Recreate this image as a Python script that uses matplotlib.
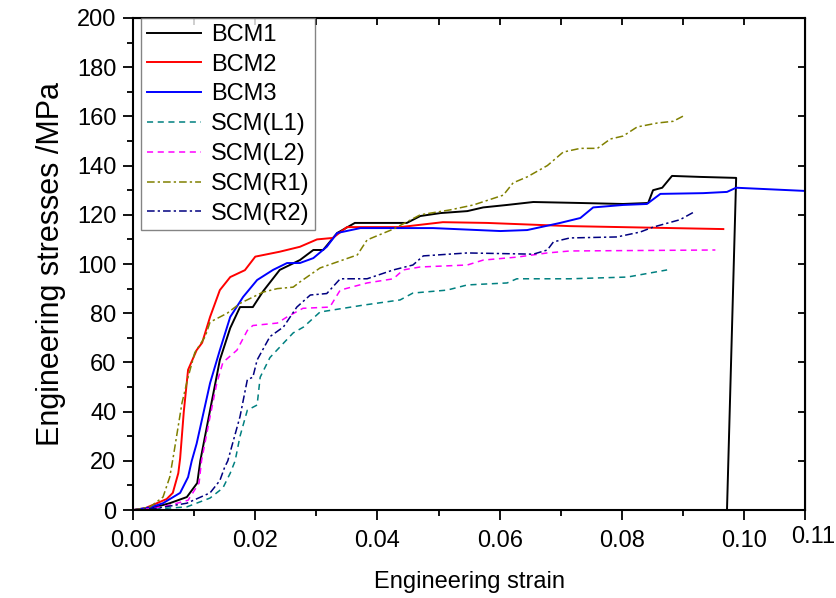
import numpy as np
import matplotlib
matplotlib.use('Agg')
import matplotlib.pyplot as plt

plt.rcParams['font.family'] = ['Liberation Sans', 'DejaVu Sans']

# 曲线数据 (应变, 应力 MPa)
bcm1_x = [0, 0.003, 0.006, 0.0088, 0.0105, 0.011, 0.0126, 0.0142, 0.0159, 0.0175, 0.0196, 0.0213,
          0.024, 0.0273, 0.0295, 0.0311, 0.0334, 0.0363, 0.0448, 0.047, 0.0503, 0.0547, 0.0573, 0.0612,
          0.0655, 0.0732, 0.0802, 0.0843, 0.0851, 0.0866, 0.0882, 0.0928, 0.0987, 0.0972]
bcm1_y = [0, 0.8, 2.8, 5.3, 11, 20, 40.6, 61, 74, 82.5, 82.5, 89,
          97.6, 101.6, 105.7, 105.7, 112.6, 116.7, 116.7, 119.5, 120.7, 121.5, 123, 124,
          125.2, 124.8, 124.4, 124.8, 130, 131, 135.8, 135.4, 135, 0]

bcm2_x = [0, 0.002, 0.0039, 0.0055, 0.0065, 0.0074, 0.0077, 0.0083, 0.009, 0.0104, 0.0113, 0.0126,
          0.0142, 0.0159, 0.0183, 0.02, 0.024, 0.0273, 0.0301, 0.0327, 0.035, 0.0437, 0.0507, 0.0579,
          0.0715, 0.0966]
bcm2_y = [0, 0.8, 2.8, 4.5, 7, 15, 21, 40, 57, 65, 68, 78.5,
          89.4, 94.7, 97.5, 103, 105, 107, 110, 110.6, 115, 115, 117, 116.7,
          115.4, 114.2]

bcm3_x = [0, 0.003, 0.0049, 0.0077, 0.009, 0.0096, 0.0104, 0.0126, 0.0142, 0.0159, 0.018, 0.0203,
          0.0229, 0.0252, 0.0273, 0.0295, 0.0317, 0.0334, 0.0372, 0.0491, 0.0601, 0.0645, 0.0699,
          0.0732, 0.0753, 0.0802, 0.0841, 0.0863, 0.0933, 0.0972, 0.0987, 0.11]
bcm3_y = [0, 1.2, 2.8, 7, 13.4, 20, 27, 51.6, 65, 78.5, 86.6, 93.5,
          97.6, 100.4, 100.4, 102.4, 107, 112.6, 114.6, 114.6, 113.4, 113.8, 116.7,
          118.7, 123, 124, 124.4, 128.5, 128.8, 129.3, 131, 129.7]

l1_x = [0, 0.004, 0.0088, 0.0126, 0.0147, 0.0159, 0.0167, 0.0175, 0.0187, 0.0203, 0.0208, 0.0224,
        0.0262, 0.0279, 0.0306, 0.0344, 0.0377, 0.0437, 0.0458, 0.0514, 0.0547, 0.0612, 0.0628,
        0.0715, 0.0809, 0.0874]
l1_y = [0, 0.5, 1.3, 4.9, 9, 15, 20, 30, 40.6, 42.7, 54, 62,
        72, 74.4, 80.5, 82, 83.3, 85.4, 88.2, 89.4, 91.5, 92.3, 94,
        94, 94.7, 97.6]

l2_x = [0, 0.003, 0.006, 0.009, 0.0108, 0.0112, 0.0126, 0.0137, 0.0147, 0.017, 0.0187, 0.0196,
        0.0236, 0.0252, 0.0278, 0.0322, 0.0339, 0.0383, 0.0426, 0.0442, 0.047, 0.0547, 0.0573,
        0.0628, 0.0678, 0.0715, 0.0953]
l2_y = [0, 0.6, 2, 4, 11, 20, 38, 51.6, 60, 65, 73, 75,
        76, 78.5, 82, 82.5, 89.4, 92.3, 94, 97.6, 98.8, 99.6, 101.6,
        102.8, 104.5, 105.3, 105.7]

r1_x = [0, 0.0028, 0.0049, 0.006, 0.0066, 0.008, 0.009, 0.0101, 0.0118, 0.0126, 0.0154, 0.0175,
        0.0213, 0.0236, 0.0262, 0.0273, 0.0306, 0.0367, 0.0383, 0.0426, 0.047, 0.0519, 0.0557,
        0.0606, 0.0622, 0.0645, 0.0678, 0.0704, 0.0732, 0.076, 0.0781, 0.0802, 0.0825, 0.0858,
        0.0884, 0.0904]
r1_y = [0, 1.3, 5.3, 13.4, 22, 43.5, 54, 64, 70.5, 76.4, 80, 84,
        88.6, 90, 90.6, 92.7, 98.4, 103.7, 109.8, 114.2, 120, 122, 124,
        128, 133, 135.4, 140, 145.5, 147, 147, 150.8, 152, 155.7, 157.3,
        158, 160.6]

r2_x = [0, 0.004, 0.0088, 0.0126, 0.0142, 0.015, 0.0155, 0.0175, 0.0187, 0.0196, 0.0203, 0.0224,
        0.0246, 0.0268, 0.029, 0.0317, 0.0339, 0.0383, 0.0426, 0.0458, 0.0475, 0.0547, 0.0655,
        0.0678, 0.0688, 0.0715, 0.0792, 0.083, 0.0851, 0.0895, 0.0917]
r2_y = [0, 0.8, 2.8, 7, 12, 17.5, 20, 38, 53, 54, 61, 70.5,
        74.4, 82.5, 87.4, 88, 94, 94, 97.6, 99.6, 103.3, 104.5, 104,
        105.7, 109, 110.6, 111, 113, 115, 118, 121]

labels = ['BCM1', 'BCM2', 'BCM3', 'SCM(L1)', 'SCM(L2)', 'SCM(R1)', 'SCM(R2)']
xticks = [0, 0.02, 0.04, 0.06, 0.08, 0.10]
xticklabels = ['0.00', '0.02', '0.04', '0.06', '0.08', '0.10']
yticks = [0, 20, 40, 60, 80, 100, 120, 140, 160, 180, 200]

fig = plt.figure(figsize=(8.37, 5.98), dpi=100)
ax = fig.add_axes([0.159, 0.147, 0.803, 0.823])

ax.plot(bcm1_x, bcm1_y, color='black', lw=1.4, label=labels[0])
ax.plot(bcm2_x, bcm2_y, color='#ff0000', lw=1.4, label=labels[1])
ax.plot(bcm3_x, bcm3_y, color='#0000ff', lw=1.4, label=labels[2])
ax.plot(l1_x, l1_y, color='#008080', lw=1.1, dashes=(4, 3), label=labels[3])
ax.plot(l2_x, l2_y, color='#ff00ff', lw=1.1, dashes=(4, 3), label=labels[4])
ax.plot(r1_x, r1_y, color='#808000', lw=1.1, dashes=(5, 2, 1.5, 2), label=labels[5])
ax.plot(r2_x, r2_y, color='#000080', lw=1.1, dashes=(5, 2, 1.5, 2), label=labels[6])

ax.set_xlim(0, 0.11)
ax.set_ylim(0, 200)
ax.set_xticks(xticks + [0.11])
ax.set_xticklabels(xticklabels + [''])
ax.set_xticks(np.arange(0.01, 0.11, 0.02), minor=True)
ax.set_yticks(yticks)
ax.set_yticks(np.arange(10, 200, 20), minor=True)
ax.tick_params(which='major', direction='out', length=7, width=1.3, labelsize=17)
ax.tick_params(axis='x', which='major', pad=7)
ax.tick_params(axis='y', which='major', pad=5)
ax.tick_params(which='minor', direction='out', length=4, width=1.3)
for s in ax.spines.values():
    s.set_linewidth(1.5)

# 顶部和右侧的内向刻度
top = ax.secondary_xaxis('top')
top.set_xticks(xticks)
top.set_xticks(np.arange(0.01, 0.11, 0.02), minor=True)
top.tick_params(which='both', direction='in', length=5, width=1.3, labeltop=False)
right = ax.secondary_yaxis('right')
right.set_yticks(yticks)
right.tick_params(direction='in', length=5, width=1.3, labelright=False)

ax.text(0.1113, -0.033, '0.11', transform=ax.get_xaxis_transform(), ha='center', va='top', fontsize=17)

ax.set_xlabel('Engineering strain', fontsize=17, labelpad=14)
ax.set_ylabel('Engineering stresses /MPa', fontsize=22, labelpad=8)

leg = ax.legend(loc='upper left', fontsize=17, frameon=True, fancybox=False, edgecolor='0.4',
                bbox_to_anchor=(0.012, 1.0), borderaxespad=0.0, handlelength=2.3,
                labelspacing=0.33, borderpad=0.25, handletextpad=0.4)
leg.get_frame().set_linewidth(1.0)

plt.savefig('out.png', dpi=100)
